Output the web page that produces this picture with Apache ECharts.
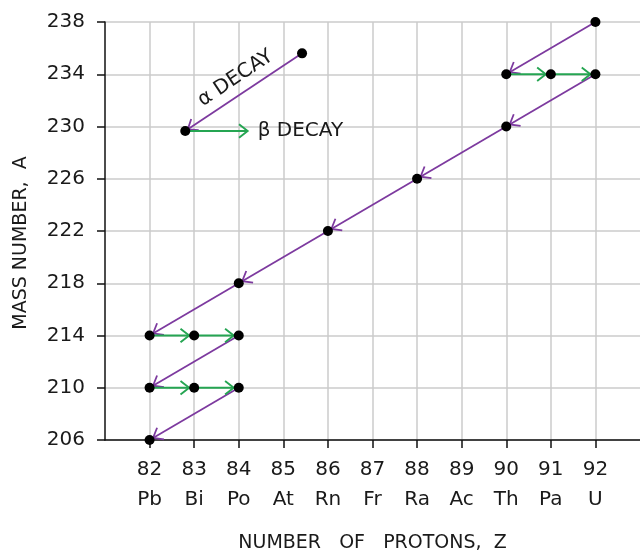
<!DOCTYPE html>
<html><head><meta charset="utf-8">
<script src="https://cdn.jsdelivr.net/npm/echarts@6/dist/echarts.min.js"></script>
<style>html,body{margin:0;padding:0;background:#fff}#c{width:640px;height:550px}</style>
</head><body><div id="c"></div>
<script>
// ---- data ----
const elements = ['Pb','Bi','Po','At','Rn','Fr','Ra','Ac','Th','Pa','U'];
const protonTicks = [82,83,84,85,86,87,88,89,90,91,92];
const BASE = 206; // lowest mass-number tick
const nuclideZ = [92,90,91,92,90,88,86,84,82,83,84,82,83,84,82];
const nuclideA = [238,234,234,234,230,226,222,218,214,214,214,210,210,210,206];
const alphaFromZ = [92,92,90,88,86,84,84,84];
const alphaFromA = [238,234,230,226,222,218,214,210];
const alphaToZ   = [90,90,88,86,84,82,82,82];
const alphaToA   = [234,230,226,222,218,214,210,206];
const betaFromZ = [90,91,82,83,82,83];
const betaFromA = [234,234,214,214,210,210];
const betaToZ   = [91,92,83,84,83,84];
const betaToA   = [234,234,214,214,210,210];
const keyAlphaFrom = [85.42,235.6];
const keyAlphaTo   = [82.8,229.65];
const keyBetaTo    = [84.2,229.65];
const alphaText = 'α DECAY';
const betaText = 'β DECAY';

const PURPLE = '#7d3a9f', GREEN = '#25a552';
const FONT = 'DejaVu Sans';

function arrowRenderer(color, back, width, textFn) {
  return function (params, api) {
    const a = api.coord([api.value(0), api.value(1)]);
    const b = api.coord([api.value(2), api.value(3)]);
    const dx = b[0]-a[0], dy = b[1]-a[1];
    const len = Math.hypot(dx, dy);
    const ux = dx/len, uy = dy/len;
    const tip = [b[0]-ux*back, b[1]-uy*back];
    const L = 11, ang = 38*Math.PI/180, c = Math.cos(ang), s = Math.sin(ang);
    const arm1 = [tip[0]-L*(ux*c - uy*s), tip[1]-L*(uy*c + ux*s)];
    const arm2 = [tip[0]-L*(ux*c + uy*s), tip[1]-L*(uy*c - ux*s)];
    const children = [
      {type:'line', shape:{x1:a[0],y1:a[1],x2:b[0],y2:b[1]}, style:{stroke:color, lineWidth:width}},
      {type:'polyline', shape:{points:[arm1, tip, arm2]}, style:{stroke:color, lineWidth:width, fill:null}}
    ];
    if (textFn) children.push(textFn(a, b));
    return {type:'group', children};
  };
}

const yv = A => A - BASE;

const option = {
  animation: false,
  grid: {left: 105, top: 22, width: 535, height: 418, outerBoundsMode: 'none', containLabel: false},
  xAxis: {
    type: 'value', min: 81, max: 93, interval: 1,
    axisLine: {lineStyle: {color: '#111', width: 1.5}},
    axisTick: {length: 8, lineStyle: {color: '#111', width: 1.5}, customValues: protonTicks},
    axisLabel: {customValues: protonTicks, color: '#1a1a1a', fontSize: 20, fontFamily: FONT, lineHeight: 30, margin: 15,
      formatter: v => elements[v-82] ? v + '\n' + elements[v-82] : ''},
    splitLine: {show: true, lineStyle: {color: '#cbcbcb', width: 1.5}},
    name: 'NUMBER   OF   PROTONS,  Z', nameLocation: 'middle', nameGap: 94,
    nameTextStyle: {color: '#1a1a1a', fontSize: 19, fontFamily: FONT}
  },
  yAxis: {
    type: 'value', min: 0, max: 32, interval: 4,
    axisLine: {show: true, lineStyle: {color: '#111', width: 1.5}},
    axisTick: {show: true, length: 8, lineStyle: {color: '#111', width: 1.5}},
    axisLabel: {color: '#1a1a1a', fontSize: 20, fontFamily: FONT, margin: 20, formatter: v => v + BASE},
    splitLine: {show: true, lineStyle: {color: '#cbcbcb', width: 1.5}},
    name: 'MASS NUMBER,  A', nameLocation: 'middle', nameGap: 74,
    nameTextStyle: {color: '#1a1a1a', fontSize: 19, fontFamily: FONT, padding: [0, 24, 0, 0]}
  },
  series: [
    {type: 'custom', z: 3, renderItem: arrowRenderer(PURPLE, 4, 1.8),
      encode: {x: [0,2], y: [1,3]},
      data: alphaFromZ.map((z,i) => [z, yv(alphaFromA[i]), alphaToZ[i], yv(alphaToA[i])])},
    {type: 'custom', z: 3, renderItem: arrowRenderer(GREEN, 5, 1.9),
      encode: {x: [0,2], y: [1,3]},
      data: betaFromZ.map((z,i) => [z, yv(betaFromA[i]), betaToZ[i], yv(betaToA[i])])},
    {type: 'custom', z: 3, renderItem: arrowRenderer(PURPLE, 3, 1.8, function (a, b) {
        const dx = a[0]-b[0], dy = a[1]-b[1];
        const len = Math.hypot(dx, dy);
        const ux = dx/len, uy = dy/len;
        const nx = uy, ny = -ux; // upward normal
        const mx = (a[0]+b[0])/2 + ux*1 + nx*16, my = (a[1]+b[1])/2 + uy*1 + ny*16;
        return {type: 'text', x: mx, y: my, rotation: Math.atan2(-dy, dx),
          style: {text: alphaText, fill: '#1a1a1a', fontSize: 20, fontFamily: FONT, align: 'center', verticalAlign: 'middle'}};
      }),
      encode: {x: [0,2], y: [1,3]},
      data: [[keyAlphaFrom[0], yv(keyAlphaFrom[1]), keyAlphaTo[0], yv(keyAlphaTo[1])]]},
    {type: 'custom', z: 3, renderItem: arrowRenderer(GREEN, 0, 1.9, function (a, b) {
        return {type: 'text', x: b[0] + 10, y: b[1],
          style: {text: betaText, fill: '#1a1a1a', fontSize: 20, fontFamily: FONT, align: 'left', verticalAlign: 'middle'}};
      }),
      encode: {x: [0,2], y: [1,3]},
      data: [[keyAlphaTo[0], yv(keyAlphaTo[1]), keyBetaTo[0], yv(keyBetaTo[1])]]},
    {type: 'scatter', z: 5, symbolSize: 10, itemStyle: {color: '#000', opacity: 1},
      data: nuclideZ.map((z,i) => [z, yv(nuclideA[i])])
        .concat([[keyAlphaFrom[0], yv(keyAlphaFrom[1])], [keyAlphaTo[0], yv(keyAlphaTo[1])]])}
  ]
};
const chart = echarts.init(document.getElementById('c'), null, {renderer: 'canvas'});
chart.setOption(option);
</script></body></html>
